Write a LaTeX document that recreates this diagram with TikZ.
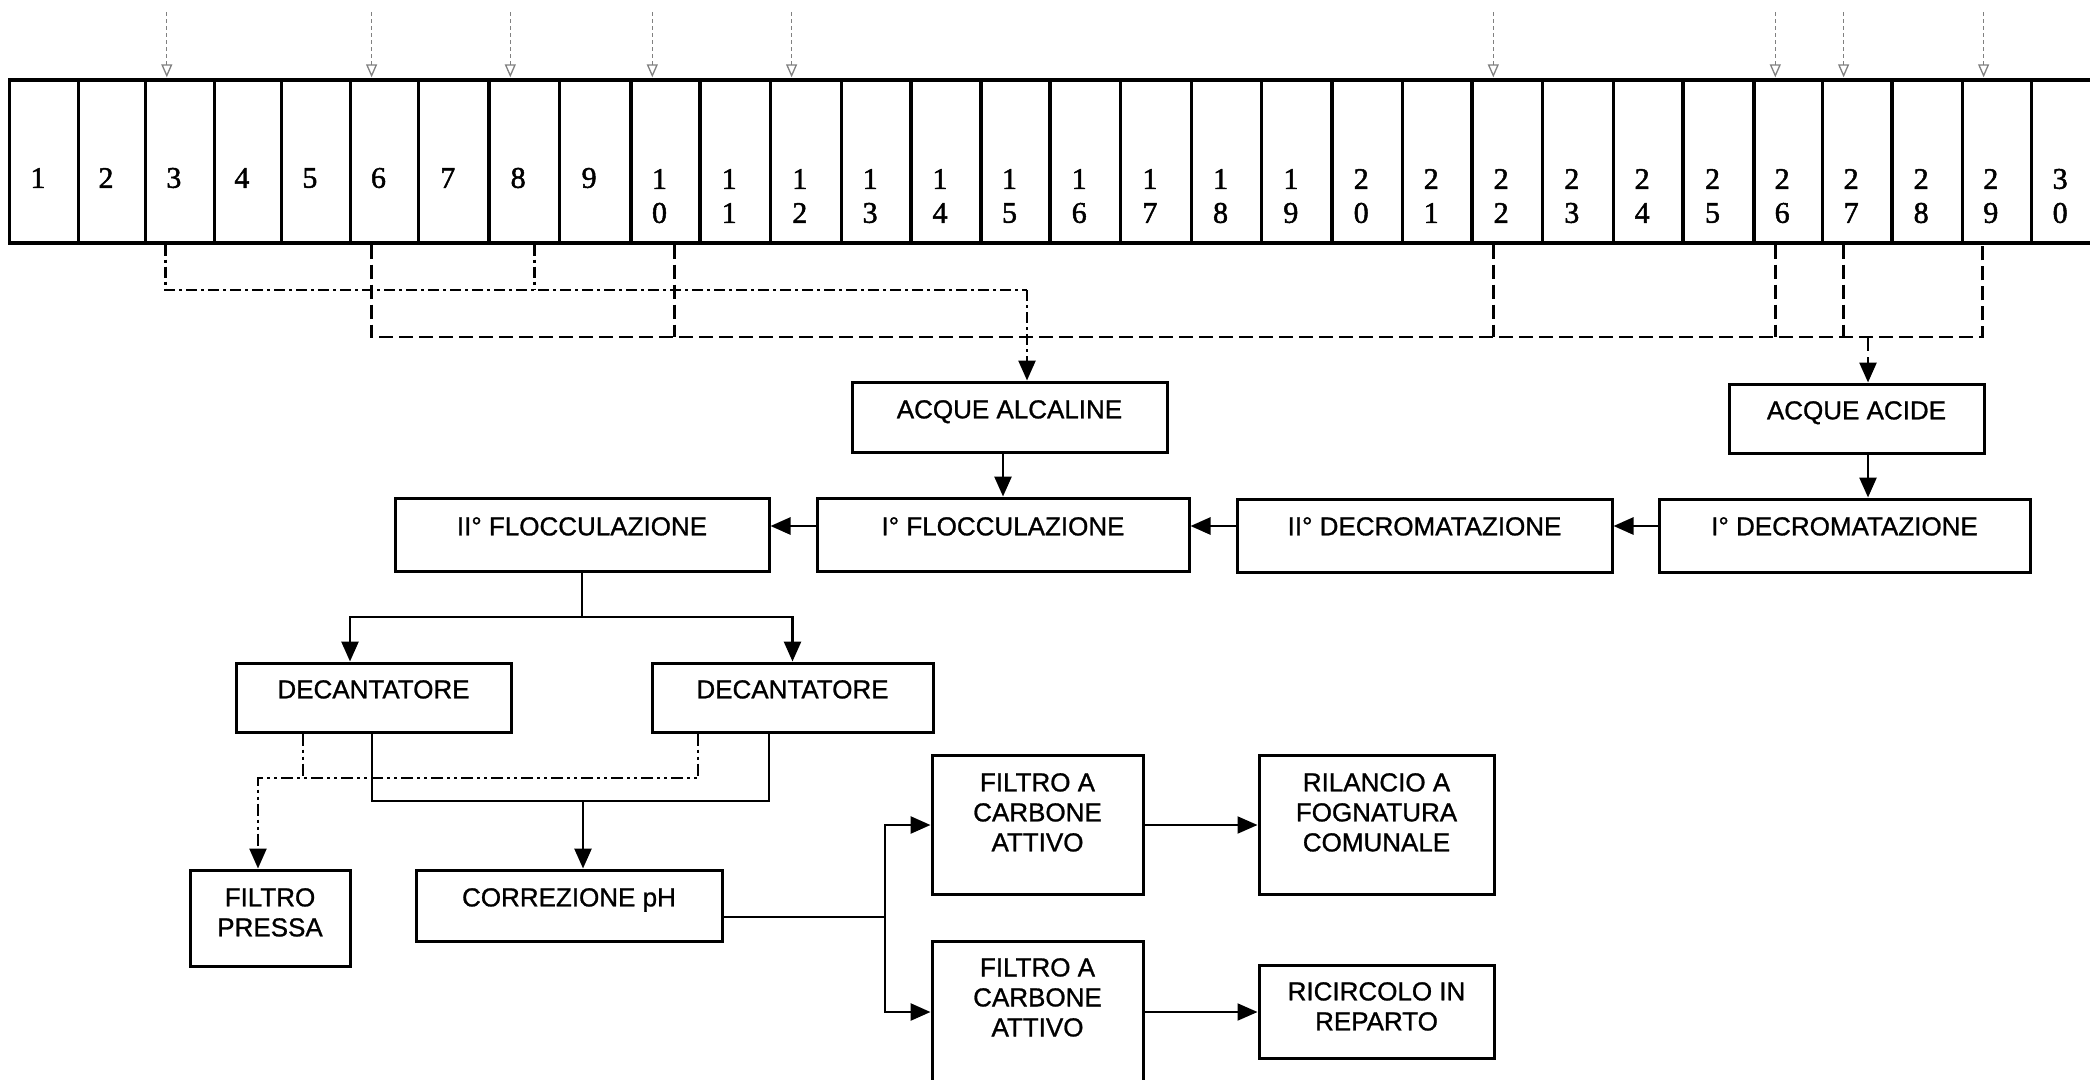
\documentclass[tikz,border=0pt]{standalone}
\usepackage{fontspec}
\setmainfont[FakeBold=1]{Liberation Sans}
\newfontfamily\digfont[FakeBold=1.6]{Liberation Serif}
\usetikzlibrary{arrows.meta}
\tikzset{
  cell/.style={draw, line width=3.4pt, minimum height=163pt, inner sep=0pt},
  dig/.style={font=\digfont\fontsize{30}{30}\selectfont, inner sep=0pt},
  box/.style={draw, line width=3pt, inner sep=0pt},
  txt/.style={font=\fontsize{26}{30}\selectfont, align=center, inner sep=0pt, anchor=north},
  conn/.style={line width=2.7pt},
  tip/.style={-{Triangle[length=20pt,width=17pt]}},
  arr/.style={conn, tip},
  alk/.style={line width=2.5pt, dash pattern=on 11pt off 4pt on 3pt off 4pt},
  acid/.style={line width=2.7pt, dash pattern=on 14pt off 6pt},
  press/.style={line width=2.5pt, dash pattern=on 12pt off 4pt on 3pt off 4pt on 3pt off 4pt},
  inlet/.style={draw=black!50, line width=1.3pt, dash pattern=on 4pt off 3pt, -{Triangle[open,length=13pt,width=11pt]}},
}
\newcommand\mybox[5]{%
  \pgfmathsetmacro\mbw{#4-#2}%
  \pgfmathsetmacro\mbh{#5-#3}%
  \node[box, minimum width=\mbw pt, minimum height=\mbh pt] (#1) at ({(#2+#4)/2},{(#3+#5)/2}) {};%
}
\begin{document}
\begin{tikzpicture}[x=1pt,y=-1pt]
\useasboundingbox (0,0) rectangle (2090,1079);
\fill[white] (0,0) rectangle (2090,1079);
\clip (0,0) rectangle (2090,1079);

% ---- tank bar ----
\foreach \i/\l/\r in {1/9.4/78.4, 2/78.4/145.5, 3/145.5/214.3, 4/214.3/281.5, 5/281.5/350.3,
  6/350.3/418.6, 7/418.6/489, 8/489/559.3, 9/559.3/631, 10/631/700,
  11/700/770.3, 12/770.3/841.3, 13/841.3/911, 14/911/981, 15/981/1050,
  16/1050/1120.4, 17/1120.4/1191.4, 18/1191.4/1261.7, 19/1261.7/1332, 20/1332/1402.4,
  21/1402.4/1472, 22/1472/1542.3, 23/1542.3/1613.3, 24/1613.3/1683, 25/1683/1754,
  26/1754/1822.3, 27/1822.3/1892, 28/1892/1962.3, 29/1962.3/2031.3, 30/2031.3/2101}{
  \pgfmathsetmacro\cw{\r-\l}
  \pgfmathsetmacro\cx{(\l+\r)/2}
  \pgfmathsetmacro\dx{\cx-6}
  \node[cell, minimum width=\cw pt] (c\i) at (\cx,161.5) {};
  \ifnum\i<10
    \node[dig] (n\i) at (\dx,178) {\i};
  \else
    \pgfmathtruncatemacro\tens{\i/10}
    \pgfmathtruncatemacro\units{\i-10*\tens}
    \node[dig] (n\i a) at (\dx,179) {\tens};
    \node[dig] (n\i b) at (\dx,213) {\units};
  \fi
}

% inlet arrows above the bar
\foreach \i in {3,6,8,10,12,22,26,27,29}
  \draw[inlet] ([xshift=23pt,yshift=66pt]c\i.north west) -- ([xshift=23pt,yshift=1pt]c\i.north west);

% outlet points below the bar
\coordinate (o3) at ([xshift=21.5pt]c3.south west);
\coordinate (o6) at ([xshift=22.7pt]c6.south west);
\coordinate (o8) at ([xshift=47pt]c8.south west);
\coordinate (o10) at ([xshift=45pt]c10.south west);
\coordinate (o22) at ([xshift=23pt]c22.south west);
\coordinate (o26) at ([xshift=23pt]c26.south west);
\coordinate (o27) at ([xshift=22.7pt]c27.south west);
\coordinate (o29) at ([xshift=21.7pt]c29.south west);

% ---- boxes ----
\mybox{aa}{852}{382}{1167}{452}
\mybox{ac}{1729}{384}{1984}{453}
\mybox{f2}{395}{498}{769}{571}
\mybox{f1}{817}{498}{1189}{571}
\mybox{d2}{1237}{499}{1612}{572}
\mybox{d1}{1659}{499}{2030}{572}
\mybox{dec1}{236}{663}{511}{732}
\mybox{dec2}{652}{663}{933}{732}
\mybox{fp}{190}{870}{350}{966}
\mybox{co}{416}{870}{722}{941}
\mybox{fa1}{932}{755}{1143}{894}
\mybox{ril}{1259}{755}{1494}{894}
\mybox{fa2}{932}{941}{1143}{1083}
\mybox{ric}{1259}{965}{1494}{1058}

\node[txt] (aa-t) at (aa.north |- 0,400) {ACQUE ALCALINE};
\node[txt] (ac-t) at (ac.north |- 0,401) {ACQUE ACIDE};
\node[txt] (f2-t) at (f2.north |- 0,517) {II° FLOCCULAZIONE};
\node[txt] (f1-t) at (f1.north |- 0,517) {I° FLOCCULAZIONE};
\node[txt] (d2-t) at (d2.north |- 0,517) {II° DECROMATAZIONE};
\node[txt] (d1-t) at (d1.north |- 0,517) {I° DECROMATAZIONE};
\node[txt] (dec1-t) at (dec1.north |- 0,680) {DECANTATORE};
\node[txt] (dec2-t) at (dec2.north |- 0,680) {DECANTATORE};
\node[txt] (fp-t) at (fp.north |- 0,888) {FILTRO\\PRESSA};
\node[txt] (co-t) at (co.north |- 0,888) {CORREZIONE pH};
\node[txt] (fa1-t) at (fa1.north |- 0,773) {FILTRO A\\CARBONE\\ATTIVO};
\node[txt] (ril-t) at (ril.north |- 0,773) {RILANCIO A\\FOGNATURA\\COMUNALE};
\node[txt] (fa2-t) at (fa2.north |- 0,958) {FILTRO A\\CARBONE\\ATTIVO};
\node[txt] (ric-t) at (ric.north |- 0,982) {RICIRCOLO IN\\REPARTO};

% ---- collectors ----
\coordinate (alkbus) at (1027,290);
\coordinate (acidbus) at (1868,337);
\draw[alk] (o3) |- (alkbus);
\draw[alk] (o8) -- (o8 |- alkbus);
\draw[alk, tip] (alkbus) -- (alkbus |- aa.north);

\draw[acid] (o6) |- (o29 |- acidbus) -- (o29);
\foreach \k in {10,22,26,27}
  \draw[acid] (o\k) -- (o\k |- acidbus);
\draw[acid, tip] (acidbus) -- (acidbus |- ac.north);

% ---- main flow ----
\coordinate (rowy) at (0,526);
\draw[arr] (f1.north |- aa.south) -- (f1.north);
\draw[arr] (acidbus |- ac.south) -- (acidbus |- d1.north);
\draw[arr] (d1.west |- rowy) -- (d2.east |- rowy);
\draw[arr] (d2.west |- rowy) -- (f1.east |- rowy);
\draw[arr] (f1.west |- rowy) -- (f2.east |- rowy);

\coordinate (split) at (582,617);
\coordinate (s1) at (350,617);
\draw[conn] (f2.south) -- (split);
\draw[arr] (split) -- (s1) -- (s1 |- dec1.north);
\draw[arr] (split) -| (dec2.north);

% decanter outlets (solid)
\coordinate (m1) at (372,801);
\coordinate (m2) at (769,801);
\coordinate (m3) at (583,801);
\draw[conn] (m1 |- dec1.south) -- (m1) -- (m2) -- (m2 |- dec2.south);
\draw[arr] (m3) -- (m3 |- co.north);

% sludge (dash-dot-dot)
\coordinate (q0) at (258,778);
\coordinate (q1) at (303,778);
\coordinate (q2) at (698,778);
\draw[press] (q1 |- dec1.south) -- (q1);
\draw[press, tip] (q2 |- dec2.south) -- (q2) -- (q0) -- (q0 |- fp.north);

% filters
\coordinate (r0) at (885,917);
\coordinate (ra) at (885,825);
\coordinate (rb) at (885,1012);
\draw[conn] (co.east |- r0) -- (r0);
\draw[arr] (r0) -- (ra) -- (ra -| fa1.west);
\draw[arr] (r0) -- (rb) -- (rb -| fa2.west);
\draw[tip, line width=2pt] (fa1.east |- ra) -- (ril.west |- ra);
\draw[tip, line width=2pt] (fa2.east |- rb) -- (ric.west |- rb);
\end{tikzpicture}
\end{document}
